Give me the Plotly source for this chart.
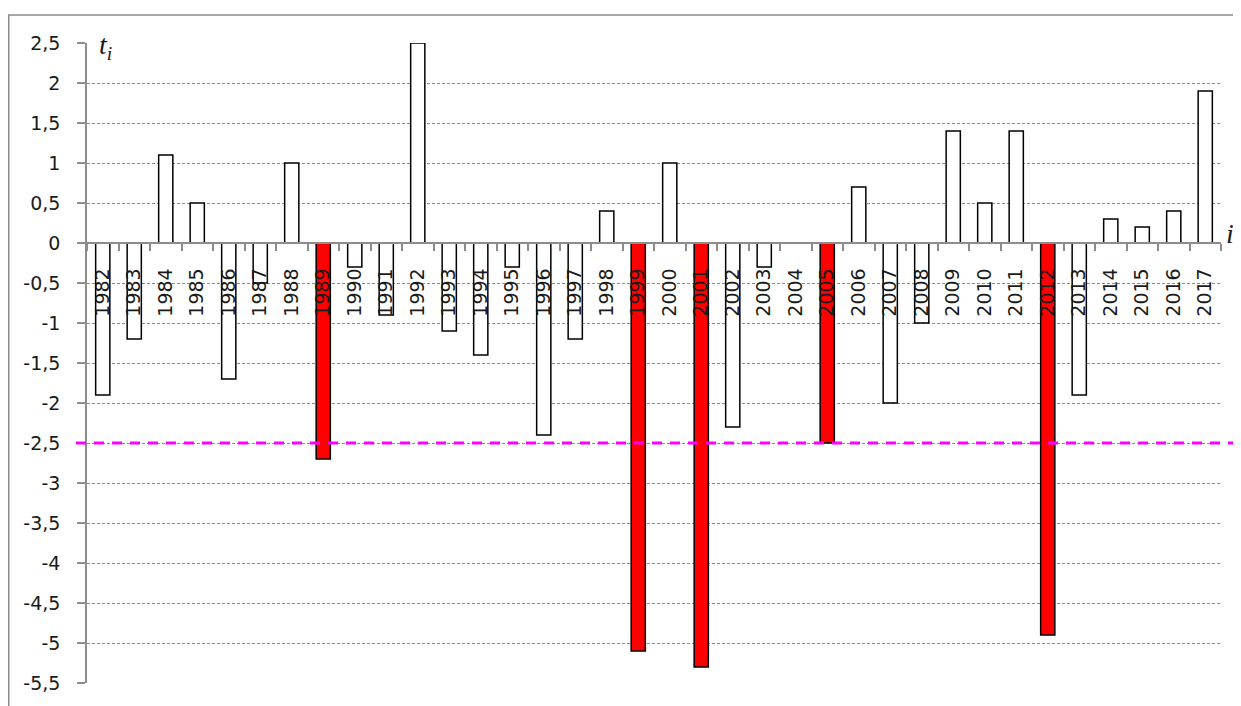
import plotly.graph_objects as go

years = [str(y) for y in range(1982, 2018)]
values = [-1.9, -1.2, 1.1, 0.5, -1.7, -0.5, 1.0, -2.7, -0.3, -0.9,
          2.5, -1.1, -1.4, -0.3, -2.4, -1.2, 0.4, -5.1, 1.0, -5.3,
          -2.3, -0.3, 0.0, -2.5, 0.7, -2.0, -1.0, 1.4, 0.5, 1.4,
          -4.9, -1.9, 0.3, 0.2, 0.4, 1.9]
threshold = -2.5
y_tickvals = [2.5, 2, 1.5, 1, 0.5, 0, -0.5, -1, -1.5, -2, -2.5, -3, -3.5, -4, -4.5, -5, -5.5]
y_ticktext = ["2,5", "2", "1,5", "1", "0,5", "0", "-0,5", "-1", "-1,5", "-2", "-2,5",
              "-3", "-3,5", "-4", "-4,5", "-5", "-5,5"]
y_range = [-5.5, 2.5]

colors = ["#ff0000" if v <= threshold else "#ffffff" for v in values]

# page body has an 8px margin; figure placed at (8, 8)
OFF = 8
W, H = 1241 - OFF, 706 - OFF
L, T = 87 - OFF, 43 - OFF
PW, PH = 1134, 640
R = W - L - PW
B = H - T - PH

fig = go.Figure()
fig.add_trace(go.Bar(
    x=years, y=values,
    marker=dict(color=colors, line=dict(color="#000000", width=1.5)),
    width=0.45,
    showlegend=False,
))

font_main = "DejaVu Sans"
y0_paper = (0 - y_range[0]) / (y_range[1] - y_range[0])
thr_paper = (threshold - y_range[0]) / (y_range[1] - y_range[0])

fig.update_layout(
    width=W, height=H,
    margin=dict(l=L, r=R, t=T, b=B, autoexpand=False),
    paper_bgcolor="white", plot_bgcolor="white",
    font=dict(family=font_main, size=19, color="#1a1a1a"),
    xaxis=dict(
        type="category", automargin=False,
        anchor="free", position=y0_paper,
        showline=True, linecolor="#8c8c8c", linewidth=1.5,
        ticks="outside", tickson="boundaries", ticklen=7, tickcolor="#8c8c8c", tickwidth=1.5,
        tickangle=-90, tickfont=dict(size=19, family=font_main, color="#1a1a1a"),
        ticklabelstandoff=17,
        showgrid=False, zeroline=False,
    ),
    yaxis=dict(
        range=y_range, automargin=False,
        tickvals=y_tickvals, ticktext=y_ticktext,
        showline=True, linecolor="#8c8c8c", linewidth=1.5,
        ticks="outside", ticklen=8, tickcolor="#8c8c8c", tickwidth=1.5,
        ticklabelstandoff=13,
        showgrid=True, gridcolor="#8c8c8c", gridwidth=1, griddash="3px,2px",
        zeroline=False,
        tickfont=dict(size=19, family=font_main, color="#1a1a1a"),
    ),
)

# outer chart border
fig.add_shape(type="rect", xref="paper", yref="paper",
              x0=(0.75 - L) / PW, x1=(W + 5 - L) / PW,
              y0=-(B + 5) / PH, y1=1 + (T - 7) / PH,
              line=dict(color="#8c8c8c", width=1.5), fillcolor="rgba(0,0,0,0)", layer="below")

# threshold line
fig.add_shape(type="line", xref="paper", yref="paper",
              x0=(76 - 87) / PW, x1=(W + 5 - L) / PW,
              y0=thr_paper, y1=thr_paper,
              line=dict(color="#ff00ff", width=3, dash="10px,8px"), layer="above")

fig.add_annotation(xref="paper", yref="paper", x=(97 - 87) / PW, y=1.0,
                   xanchor="left", yanchor="middle", yshift=-3, showarrow=False,
                   text="<i>t</i><sub><i>i</i></sub>", bgcolor="white",
                   font=dict(family="Liberation Serif", size=28, color="#1a1a1a"))
fig.add_annotation(xref="paper", yref="y", x=(1224 - 87) / PW, y=0,
                   xanchor="left", yanchor="bottom", yshift=-8, showarrow=False,
                   text="<i>i</i>",
                   font=dict(family="Liberation Serif", size=28, color="#1a1a1a"))

fig.write_html("out.html")
